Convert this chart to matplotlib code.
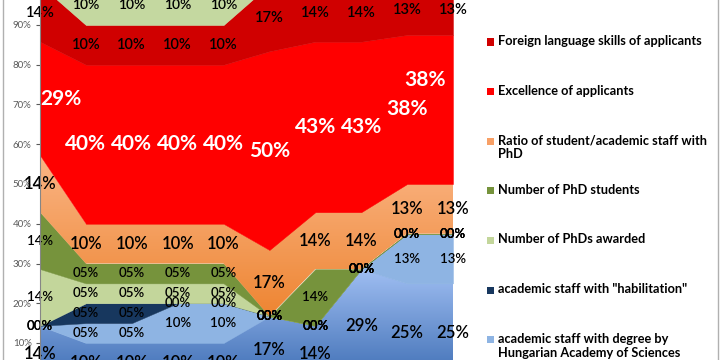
import matplotlib
matplotlib.use("Agg")
import matplotlib.pyplot as plt
import numpy as np
from matplotlib.colors import LinearSegmentedColormap
from matplotlib.patches import Rectangle

plt.rcParams['font.family'] = ['Lato', 'DejaVu Sans']

# categories (their names are cropped off in the reference)
categories = ['1', '2', '3', '4', '5', '6', '7', '8', '9', '10']

# series, bottom to top, values in %
staff_other = [14.3, 10, 10, 10, 10, 16.7, 14.3, 28.6, 25, 25]
staff_academy = [0, 5, 5, 10, 10, 0, 0, 0, 12.5, 12.5]
staff_habil = [0, 5, 5, 0, 0, 0, 0, 0, 0, 0]
phds_awarded = [14.3, 5, 5, 5, 5, 0, 0, 0, 0, 0]
phd_students = [14.3, 5, 5, 5, 5, 0, 14.3, 0, 0, 0]
ratio_phd = [14.3, 10, 10, 10, 10, 16.7, 14.3, 14.3, 12.5, 12.5]
excellence = [28.6, 40, 40, 40, 40, 50, 42.9, 42.9, 37.5, 37.5]
foreign_lang = [14.3, 10, 10, 10, 10, 16.7, 14.3, 14.3, 12.5, 12.5]
top_series = [0, 10, 10, 10, 10, 0, 0, 0, 0, 0]

legend_names = ['Foreign language skills of applicants',
                'Excellence of applicants',
                'Ratio of student/academic staff with\nPhD',
                'Number of PhD students',
                'Number of PhDs awarded',
                'academic staff with "habilitation"',
                'academic staff with degree by\nHungarian Academy of Sciences']

# (values, colour or gradient, label size, label colour, keep label inside)
series = [
    (staff_other, ('#9fbef2', '#3d6db3'), 12, 'black', False),
    (staff_academy, '#8eb4e3', 9.5, 'black', False),
    (staff_habil, '#17375e', 9.5, 'black', False),
    (phds_awarded, '#c3d69b', 9.5, 'black', False),
    (phd_students, '#76933c', 9.5, 'black', False),
    (ratio_phd, ('#fab585', '#ee8532'), 12, 'black', False),
    (excellence, '#ff0000', 15, 'white', True),
    (foreign_lang, '#d00000', 10.5, 'black', False),
    (top_series, '#c4d8a0', 10, 'black', False),
]
legend_cols = ['#d00000', '#ff0000', '#f8a066', '#76933c', '#c3d69b', '#17375e', '#8eb4e3']

W, H = 720, 360
fig = plt.figure(figsize=(7.2, 3.6), dpi=100)
ax = fig.add_axes([40 / W, (H - 382.75) / H, 413 / W, 397.5 / H])

x = np.arange(len(categories))
base = np.zeros(len(x))
for vals, col, fs, tc, inside in series:
    v = np.array(vals) / 100.0
    top = base + v
    if isinstance(col, tuple):
        poly = ax.fill_between(x, base, top, color='none', lw=0)
        cmap = LinearSegmentedColormap.from_list('g', [col[1], col[0]])
        grad = np.linspace(0, 1, 256).reshape(-1, 1)
        im = ax.imshow(grad, extent=[x[0], x[-1], base.min(), top.max()],
                       origin='lower', aspect='auto', cmap=cmap, zorder=1)
        im.set_clip_path(poly.get_paths()[0], transform=ax.transData)
    else:
        ax.fill_between(x, base, top, facecolor=col, edgecolor=col, lw=0.3, zorder=1)
    for i in range(len(x)):
        lbl = '%02d%%' % int(vals[i] + 0.5)
        ha, frac = 'center', 0.5
        if inside and i == 0:
            ha = 'left'
        elif inside and i == len(x) - 1:
            # edge label is pushed inside and up, like the original
            ha, frac = 'right', 0.7
        ax.text(x[i] - (0.15 if ha == 'right' else 0), base[i] + v[i] * frac, lbl,
                ha=ha, va='center', fontsize=fs, color=tc,
                fontweight='bold' if inside else 'semibold', zorder=5, clip_on=False)
    base = top

ax.set_xlim(x[0], x[-1])
ax.set_ylim(0, 1)
ax.set_yticks(np.arange(0, 1.01, 0.1))
ax.set_yticklabels(['%d%%' % t for t in range(0, 101, 10)])
ax.tick_params(axis='y', labelsize=7, colors='#595959', length=3, width=0.8, pad=3)
ax.set_xticks([])
for s in ['top', 'right', 'bottom']:
    ax.spines[s].set_visible(False)
ax.spines['left'].set_color('#868686')
ax.spines['left'].set_zorder(6)

# legend, drawn by hand so entries keep an even spacing
for k, (name, c) in enumerate(zip(legend_names, legend_cols)):
    yc = 42 + k * 49.6
    fig.patches.append(Rectangle((487 / W, 1 - (yc + 3.5) / H), 7 / W, 7 / H,
                                 transform=fig.transFigure, facecolor=c,
                                 edgecolor='none'))
    fig.text(498 / W, 1 - (yc - 7) / H, name, ha='left', va='top',
             fontsize=9.2, fontweight='bold', color='black', linespacing=1.2)

# chart border
for xb in [2.5, 717.5]:
    fig.add_artist(plt.Line2D([xb / W, xb / W], [0, 1], color='#b0b0b0', lw=1))

fig.savefig('out.png', dpi=100)
